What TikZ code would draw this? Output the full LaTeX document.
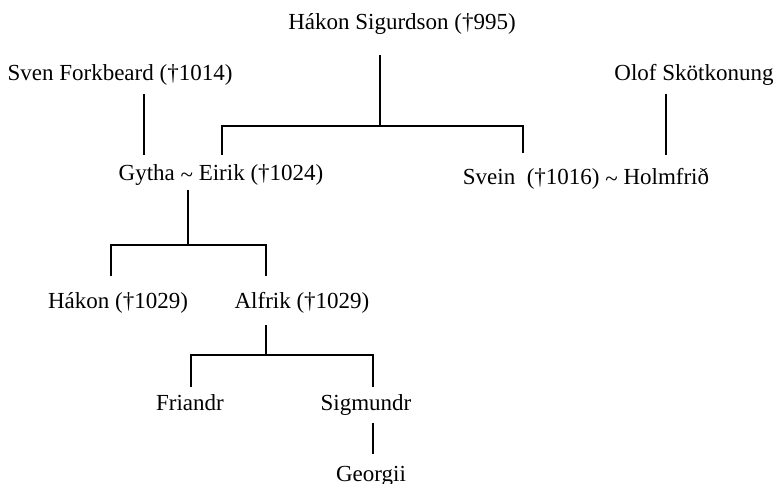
\documentclass[tikz,border=0pt]{standalone}
\usepackage{fontspec}
\setmainfont{Liberation Serif}
\newcommand{\tld}{\raisebox{-0.06em}{\textasciitilde}}
\begin{document}
\begin{tikzpicture}[x=1pt,y=-1pt,
  person/.style={anchor=base,inner sep=0pt,font=\fontsize{23}{27}\selectfont},
  link/.style={line width=1.6pt,line cap=butt,line join=miter}]
\useasboundingbox (0,0) rectangle (777,484);

% people
\node[person] (hs) at (402,30)  {Hákon Sigurdson (†995)};
\node[person] (sf) at (120,81)  {Sven Forkbeard (†1014)};
\node[person] (ok) at (694,81)  {Olof Skötkonung};
\node[person] (ge) at (221,181) {Gytha \tld{} Eirik (†1024)};
\node[person] (sh) at (586,185) {Svein\ \ (†1016) \tld{} Holmfrið};
\node[person] (hk) at (118,308) {Hákon (†1029)};
\node[person] (al) at (302,308) {Alfrik (†1029)};
\node[person] (fr) at (190,410) {Friandr};
\node[person] (sg) at (366,410) {Sigmundr};
\node[person] (gg) at (371,481) {Georgii};

% connector ends below and above the names
\coordinate (hs-d) at (380,55);
\coordinate (hs-j) at (380,126);
\coordinate (ge-u) at (222,155);
\coordinate (sh-u) at (523,153);
\coordinate (sf-d) at (144,94);
\coordinate (sf-e) at (144,155);
\coordinate (ok-d) at (666,94);
\coordinate (ok-e) at (666,155);
\coordinate (ge-d) at (188,190);
\coordinate (ge-j) at (188,245);
\coordinate (hk-u) at (111,276);
\coordinate (al-u) at (266,276);
\coordinate (al-d) at (266,325);
\coordinate (al-j) at (266,355);
\coordinate (fr-u) at (191,387);
\coordinate (sg-u) at (373,387);
\coordinate (sg-d) at (373,423);
\coordinate (gg-u) at (373,454);

% descent lines
\draw[link] (hs-d) -- (hs-j);
\draw[link] (ge-u) |- (hs-j) -| (sh-u);
\draw[link] (sf-d) -- (sf-e);
\draw[link] (ok-d) -- (ok-e);
\draw[link] (ge-d) -- (ge-j);
\draw[link] (hk-u) |- (ge-j) -| (al-u);
\draw[link] (al-d) -- (al-j);
\draw[link] (fr-u) |- (al-j) -| (sg-u);
\draw[link] (sg-d) -- (gg-u);
\end{tikzpicture}
\end{document}
